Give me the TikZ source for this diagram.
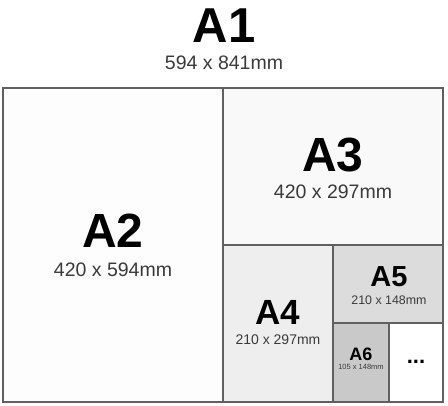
\documentclass[tikz,border=0pt]{standalone}
\usepackage{fontspec}
\setmainfont{Liberation Sans}
\usetikzlibrary{math}
\usetikzlibrary{calc}

\definecolor{frame}{HTML}{606060}
\definecolor{subtext}{HTML}{3A3A3A}
\definecolor{fillA}{HTML}{FDFDFD}
\definecolor{fillB}{HTML}{F9F9F9}
\definecolor{fillC}{HTML}{EEEEEF}
\definecolor{fillD}{HTML}{DCDCDC}
\definecolor{fillE}{HTML}{C9C9C9}

\tikzset{
  sheet/.style={draw=frame, line width=1.1pt},
  papername/.style={anchor=base, inner sep=0pt},
  papersize/.style={anchor=base, inner sep=0pt, text=subtext},
}

\begin{document}
\begin{tikzpicture}[x=1pt,y=-1pt]

  \tikzmath{
    \xa = 3;   % left edge of the sheet
    \xb = 223; % A2 | A3
    \xc = 333; % A4 | A5
    \xd = 389; % A6 | rest
    \xe = 443; % right edge
    \ya = 88;  % top edge
    \yb = 245; % A3 | A4
    \yc = 323; % A5 | A6
    \yd = 402; % bottom edge
  }

  \useasboundingbox (0,0) rectangle (448,406);

  % the sheets, largest first
  \draw[sheet, fill=fillA] (\xa,\ya) rectangle (\xb,\yd);
  \draw[sheet, fill=fillB] (\xb,\ya) rectangle (\xe,\yb);
  \draw[sheet, fill=fillC] (\xb,\yb) rectangle (\xc,\yd);
  \draw[sheet, fill=fillD] (\xc,\yb) rectangle (\xe,\yc);
  \draw[sheet, fill=fillE] (\xc,\yc) rectangle (\xd,\yd);
  \draw[sheet, fill=white] (\xd,\yc) rectangle (\xe,\yd);

  % A1 on top
  \node[papername, font=\fontsize{49}{49}\bfseries] (a1) at (224,43) {A1};
  \node[papersize, font=\fontsize{19.5}{20}\selectfont] (a1size) at (224,70) {594 x 841mm};

  % A2
  \node[papername, font=\fontsize{48}{48}\bfseries] (a2) at (113,248) {A2};
  \node[papersize, font=\fontsize{19.5}{20}\selectfont] (a2size) at (113,277) {420 x 594mm};

  % A3
  \node[papername, font=\fontsize{48}{48}\bfseries] (a3) at (333,172) {A3};
  \node[papersize, font=\fontsize{19.5}{20}\selectfont] (a3size) at (333,199) {420 x 297mm};

  % A4
  \node[papername, font=\fontsize{35}{35}\bfseries] (a4) at (278,325) {A4};
  \node[papersize, font=\fontsize{14}{14}\selectfont] (a4size) at (278,345) {210 x 297mm};

  % A5
  \node[papername, font=\fontsize{29}{29}\bfseries] (a5) at (389,287) {A5};
  \node[papersize, font=\fontsize{12.4}{13}\selectfont] (a5size) at (389,305) {210 x 148mm};

  % A6
  \node[papername, font=\fontsize{18}{18}\bfseries] (a6) at (361,361) {A6};
  \node[papersize, font=\fontsize{7.5}{8}\selectfont] (a6size) at (361,370) {105 x 148mm};

  % and so on
  \node[papername, font=\fontsize{22}{22}\bfseries] (more) at (416,364) {...};

\end{tikzpicture}
\end{document}
